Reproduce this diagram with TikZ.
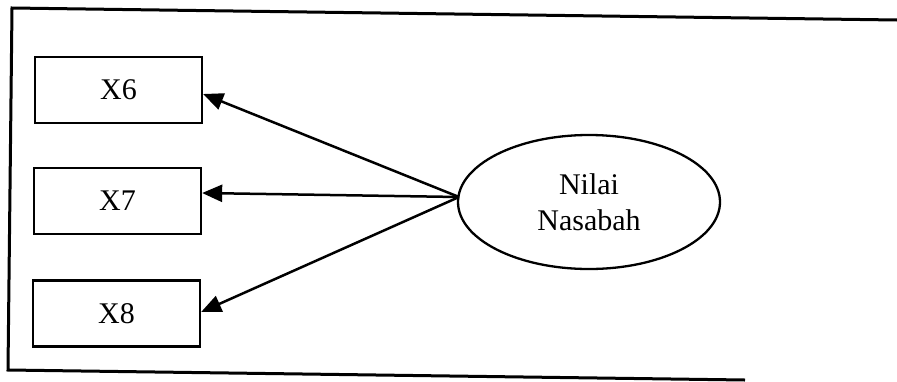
\documentclass[tikz,border=0pt]{standalone}
\usepackage{fontspec}
\setmainfont{Liberation Serif}
\usetikzlibrary{arrows.meta,shapes.geometric}
\begin{document}
\begin{tikzpicture}[x=1pt,y=-1pt,
  every node/.style={font=\fontsize{30}{36}\selectfont},
  var/.style={draw,line width=2.3pt,rectangle,minimum width=167pt,minimum height=66pt,inner sep=0pt},
  lat/.style={draw,line width=2.3pt,ellipse,minimum width=262pt,minimum height=134pt,inner sep=0pt,align=center},
  conn/.style={line width=2.5pt,-{Triangle[length=20pt,width=17pt]}},
  frame/.style={line width=3pt}]
\useasboundingbox (0,0) rectangle (897,381);
\fill[white] (0,0) rectangle (897,381);
% frame (slightly tilted scan)
\coordinate (ftl) at (12,8);
\coordinate (ftr) at (897,20);
\coordinate (fbl) at (8,370);
\coordinate (fbr) at (745,380);
\draw[frame] (ftr) -- (ftl) -- (fbl) -- (fbr);
% nodes
\node[var] (b6) at (118.5,90) {X6};
\node[var] (b7) at (117.5,201) {X7};
\node[var] (b8) at (116.5,313.5) {X8};
\node[lat] (e) at (589,202) {Nilai\\Nasabah};
\coordinate (o) at (459,197);
% connectors
\draw[conn] (o) -- ([yshift=-4pt]b6.east);
\draw[conn] (o) -- ([yshift=8pt]b7.east);
\draw[conn] (o) -- ([yshift=1.5pt]b8.east);
\end{tikzpicture}
\end{document}
